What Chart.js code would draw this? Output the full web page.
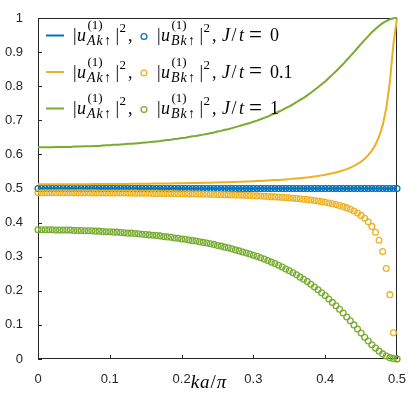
<!DOCTYPE html>
<html>
<head>
<meta charset="utf-8">
<script src="https://cdn.jsdelivr.net/npm/chart.js@4/dist/chart.umd.min.js"></script>
<style>
  html, body { margin: 0; padding: 0; background: #fff; }
  #wrap { width: 416px; height: 395px; }
</style>
</head>
<body>
<div id="wrap"><canvas id="chart" width="416" height="395"></canvas></div>
<script>
// ka/pi sample points
const kVals = [
  0, 0.005, 0.01, 0.015, 0.02, 0.025, 0.03, 0.035, 0.04, 0.045,
  0.05, 0.055, 0.06, 0.065, 0.07, 0.075, 0.08, 0.085, 0.09, 0.095,
  0.1, 0.105, 0.11, 0.115, 0.12, 0.125, 0.13, 0.135, 0.14, 0.145,
  0.15, 0.155, 0.16, 0.165, 0.17, 0.175, 0.18, 0.185, 0.19, 0.195,
  0.2, 0.205, 0.21, 0.215, 0.22, 0.225, 0.23, 0.235, 0.24, 0.245,
  0.25, 0.255, 0.26, 0.265, 0.27, 0.275, 0.28, 0.285, 0.29, 0.295,
  0.3, 0.305, 0.31, 0.315, 0.32, 0.325, 0.33, 0.335, 0.34, 0.345,
  0.35, 0.355, 0.36, 0.365, 0.37, 0.375, 0.38, 0.385, 0.39, 0.395,
  0.4, 0.405, 0.41, 0.415, 0.42, 0.425, 0.43, 0.435, 0.44, 0.445,
  0.45, 0.455, 0.46, 0.465, 0.47, 0.475, 0.48, 0.485, 0.49, 0.495,
  0.5
];

// J/t = 0
const blueA = [
  0.5, 0.5, 0.5, 0.5, 0.5, 0.5, 0.5, 0.5, 0.5, 0.5,
  0.5, 0.5, 0.5, 0.5, 0.5, 0.5, 0.5, 0.5, 0.5, 0.5,
  0.5, 0.5, 0.5, 0.5, 0.5, 0.5, 0.5, 0.5, 0.5, 0.5,
  0.5, 0.5, 0.5, 0.5, 0.5, 0.5, 0.5, 0.5, 0.5, 0.5,
  0.5, 0.5, 0.5, 0.5, 0.5, 0.5, 0.5, 0.5, 0.5, 0.5,
  0.5, 0.5, 0.5, 0.5, 0.5, 0.5, 0.5, 0.5, 0.5, 0.5,
  0.5, 0.5, 0.5, 0.5, 0.5, 0.5, 0.5, 0.5, 0.5, 0.5,
  0.5, 0.5, 0.5, 0.5, 0.5, 0.5, 0.5, 0.5, 0.5, 0.5,
  0.5, 0.5, 0.5, 0.5, 0.5, 0.5, 0.5, 0.5, 0.5, 0.5,
  0.5, 0.5, 0.5, 0.5, 0.5, 0.5, 0.5, 0.5, 0.5, 0.5,
  0.5
];
const blueB = [
  0.5, 0.5, 0.5, 0.5, 0.5, 0.5, 0.5, 0.5, 0.5, 0.5,
  0.5, 0.5, 0.5, 0.5, 0.5, 0.5, 0.5, 0.5, 0.5, 0.5,
  0.5, 0.5, 0.5, 0.5, 0.5, 0.5, 0.5, 0.5, 0.5, 0.5,
  0.5, 0.5, 0.5, 0.5, 0.5, 0.5, 0.5, 0.5, 0.5, 0.5,
  0.5, 0.5, 0.5, 0.5, 0.5, 0.5, 0.5, 0.5, 0.5, 0.5,
  0.5, 0.5, 0.5, 0.5, 0.5, 0.5, 0.5, 0.5, 0.5, 0.5,
  0.5, 0.5, 0.5, 0.5, 0.5, 0.5, 0.5, 0.5, 0.5, 0.5,
  0.5, 0.5, 0.5, 0.5, 0.5, 0.5, 0.5, 0.5, 0.5, 0.5,
  0.5, 0.5, 0.5, 0.5, 0.5, 0.5, 0.5, 0.5, 0.5, 0.5,
  0.5, 0.5, 0.5, 0.5, 0.5, 0.5, 0.5, 0.5, 0.5, 0.5,
  0.5
];

// J/t = 0.1
const orangeA = [
  0.5125, 0.5125, 0.5125, 0.5125, 0.5125, 0.5125, 0.5126, 0.5126, 0.5126, 0.5126,
  0.5127, 0.5127, 0.5127, 0.5128, 0.5128, 0.5129, 0.5129, 0.5130, 0.5130, 0.5131,
  0.5131, 0.5132, 0.5133, 0.5134, 0.5134, 0.5135, 0.5136, 0.5137, 0.5138, 0.5139,
  0.5140, 0.5141, 0.5143, 0.5144, 0.5145, 0.5147, 0.5148, 0.5150, 0.5151, 0.5153,
  0.5155, 0.5156, 0.5158, 0.5160, 0.5162, 0.5164, 0.5167, 0.5169, 0.5171, 0.5174,
  0.5177, 0.5180, 0.5183, 0.5186, 0.5189, 0.5192, 0.5196, 0.5200, 0.5204, 0.5208,
  0.5213, 0.5217, 0.5222, 0.5228, 0.5233, 0.5239, 0.5246, 0.5252, 0.5259, 0.5267,
  0.5275, 0.5284, 0.5294, 0.5304, 0.5315, 0.5326, 0.5339, 0.5353, 0.5368, 0.5385,
  0.5403, 0.5424, 0.5446, 0.5472, 0.5500, 0.5532, 0.5569, 0.5612, 0.5661, 0.5719,
  0.5789, 0.5873, 0.5978, 0.6111, 0.6284, 0.6518, 0.6850, 0.7344, 0.8113, 0.9233,
  1
];
const orangeB = [
  0.4875, 0.4875, 0.4875, 0.4875, 0.4875, 0.4875, 0.4874, 0.4874, 0.4874, 0.4874,
  0.4873, 0.4873, 0.4873, 0.4872, 0.4872, 0.4871, 0.4871, 0.4870, 0.4870, 0.4869,
  0.4869, 0.4868, 0.4867, 0.4866, 0.4866, 0.4865, 0.4864, 0.4863, 0.4862, 0.4861,
  0.4860, 0.4859, 0.4857, 0.4856, 0.4855, 0.4853, 0.4852, 0.4850, 0.4849, 0.4847,
  0.4845, 0.4844, 0.4842, 0.4840, 0.4838, 0.4836, 0.4833, 0.4831, 0.4829, 0.4826,
  0.4823, 0.4820, 0.4817, 0.4814, 0.4811, 0.4808, 0.4804, 0.4800, 0.4796, 0.4792,
  0.4787, 0.4783, 0.4778, 0.4772, 0.4767, 0.4761, 0.4754, 0.4748, 0.4741, 0.4733,
  0.4725, 0.4716, 0.4706, 0.4696, 0.4685, 0.4674, 0.4661, 0.4647, 0.4632, 0.4615,
  0.4597, 0.4576, 0.4554, 0.4528, 0.4500, 0.4468, 0.4431, 0.4388, 0.4339, 0.4281,
  0.4211, 0.4127, 0.4022, 0.3889, 0.3716, 0.3482, 0.3150, 0.2656, 0.1887, 0.0767,
  0
];

// J/t = 1
const greenA = [
  0.621, 0.621, 0.621, 0.621, 0.621, 0.622, 0.622, 0.622, 0.622, 0.622,
  0.623, 0.623, 0.623, 0.624, 0.624, 0.624, 0.625, 0.625, 0.626, 0.627,
  0.627, 0.628, 0.628, 0.629, 0.630, 0.631, 0.631, 0.632, 0.633, 0.634,
  0.635, 0.636, 0.637, 0.638, 0.639, 0.641, 0.642, 0.643, 0.645, 0.646,
  0.648, 0.649, 0.651, 0.653, 0.654, 0.656, 0.658, 0.660, 0.662, 0.664,
  0.667, 0.669, 0.672, 0.674, 0.677, 0.680, 0.683, 0.686, 0.689, 0.692,
  0.696, 0.699, 0.703, 0.707, 0.711, 0.716, 0.720, 0.725, 0.730, 0.736,
  0.741, 0.747, 0.753, 0.760, 0.766, 0.773, 0.781, 0.789, 0.797, 0.806,
  0.814, 0.824, 0.834, 0.844, 0.854, 0.865, 0.877, 0.888, 0.900, 0.912,
  0.924, 0.936, 0.947, 0.958, 0.968, 0.977, 0.985, 0.991, 0.996, 0.999,
  1
];
const greenB = [
  0.379, 0.379, 0.379, 0.379, 0.379, 0.378, 0.378, 0.378, 0.378, 0.378,
  0.377, 0.377, 0.377, 0.376, 0.376, 0.376, 0.375, 0.375, 0.374, 0.373,
  0.373, 0.372, 0.372, 0.371, 0.370, 0.369, 0.369, 0.368, 0.367, 0.366,
  0.365, 0.364, 0.363, 0.362, 0.361, 0.359, 0.358, 0.357, 0.355, 0.354,
  0.352, 0.351, 0.349, 0.347, 0.346, 0.344, 0.342, 0.340, 0.338, 0.336,
  0.333, 0.331, 0.328, 0.326, 0.323, 0.320, 0.317, 0.314, 0.311, 0.308,
  0.304, 0.301, 0.297, 0.293, 0.289, 0.284, 0.280, 0.275, 0.270, 0.264,
  0.259, 0.253, 0.247, 0.240, 0.234, 0.227, 0.219, 0.211, 0.203, 0.194,
  0.186, 0.176, 0.166, 0.156, 0.146, 0.135, 0.123, 0.112, 0.100, 0.088,
  0.076, 0.064, 0.053, 0.042, 0.032, 0.023, 0.015, 0.009, 0.004, 0.001,
  0
];

const jLabels = ['0', '0.1', '1'];

const BLUE = '#0072BD';
const ORANGE = '#EDB120';
const GREEN = '#77AC30';
const AXIS = '#262626';
const SERIF = '"Liberation Serif", "DejaVu Serif", serif';
const SANS = '"Liberation Sans", Arial, sans-serif';

function pts(ys) {
  return kVals.map((k, i) => ({ x: k, y: ys[i] }));
}

function lineSet(ys, color, order) {
  return {
    data: pts(ys), showLine: true, borderColor: color, borderWidth: 2,
    pointRadius: 0, fill: false, clip: false, order: order
  };
}

function circleSet(ys, color, order) {
  return {
    data: pts(ys), showLine: false, pointRadius: 2.9, pointBorderWidth: 1.3,
    pointBorderColor: color, pointBackgroundColor: 'rgba(0,0,0,0)',
    pointHoverRadius: 2.9, clip: false, order: order
  };
}

// axes box + inward ticks (drawn under the data)
const axesBox = {
  id: 'axesBox',
  beforeDatasetsDraw(chart) {
    const { ctx, chartArea: a, scales } = chart;
    ctx.save();
    ctx.strokeStyle = AXIS;
    ctx.lineWidth = 1;
    ctx.beginPath();
    ctx.rect(a.left + 0.5, a.top + 0.5, a.right - a.left - 1, a.bottom - a.top - 1);
    scales.x.ticks.forEach(t => {
      const px = Math.round(scales.x.getPixelForValue(t.value)) + 0.5;
      ctx.moveTo(px, a.bottom);
      ctx.lineTo(px, a.bottom - 4);
    });
    scales.y.ticks.forEach(t => {
      const py = Math.round(scales.y.getPixelForValue(t.value)) + 0.5;
      ctx.moveTo(a.left, py);
      ctx.lineTo(a.left + 4, py);
    });
    ctx.stroke();
    ctx.restore();
  }
};

function putText(ctx, txt, x, y, size, italic) {
  ctx.font = (italic ? 'italic ' : '') + size + 'px ' + SERIF;
  ctx.fillText(txt, x, y);
  return x + ctx.measureText(txt).width;
}

// |u^{(1)}_{X k up}|^2,   x0 = position of the first bar
function term(ctx, x0, y, letter) {
  putText(ctx, '|', x0, y, 18, false);
  putText(ctx, 'u', x0 + 4, y, 18, true);
  putText(ctx, '(1)', x0 + 14.5, y - 12, 13, false);
  putText(ctx, letter, x0 + 14, y + 4, 14, true);
  putText(ctx, 'k', x0 + 23.5, y + 4, 14, true);
  putText(ctx, '\u2191', x0 + 31, y + 4, 14, false);
  putText(ctx, '|', x0 + 42.5, y, 18, false);
  putText(ctx, '2', x0 + 46.5, y - 9, 13, false);
  putText(ctx, ',', x0 + 55, y, 18, false);
}

const legendAndTitle = {
  id: 'legendAndTitle',
  afterDraw(chart) {
    const { ctx } = chart;
    const colors = [BLUE, ORANGE, GREEN];
    ctx.save();
    ctx.textBaseline = 'alphabetic';
    ctx.textAlign = 'left';
    ctx.fillStyle = '#000';
    for (let r = 0; r < 3; r++) {
      const ly = 35.5 + r * 36.5;
      const by = ly + 5.5;
      ctx.strokeStyle = colors[r];
      ctx.lineWidth = 2;
      ctx.beginPath();
      ctx.moveTo(46, ly);
      ctx.lineTo(64, ly);
      ctx.stroke();
      ctx.lineWidth = 1.3;
      ctx.beginPath();
      ctx.arc(144, ly + 1, 2.9, 0, Math.PI * 2);
      ctx.stroke();
      term(ctx, 73, by, 'A');
      term(ctx, 157, by, 'B');
      putText(ctx, 'J', 222, by, 18, true);
      putText(ctx, '/', 231.5, by, 18, false);
      putText(ctx, 't', 239, by, 18, true);
      ctx.font = '23px ' + SERIF;
      ctx.fillText('=', 249, by + 0.5);
      putText(ctx, jLabels[r], 270, by, 18, false);
    }
    // x axis title
    const parts = [['k', true], ['a', true], ['/', false], ['\u03c0', true]];
    let w = 0;
    parts.forEach(p => {
      ctx.font = (p[1] ? 'italic ' : '') + '19px ' + SERIF;
      w += ctx.measureText(p[0]).width + 1;
    });
    let tx = 209 - w / 2;
    parts.forEach(p => { tx = putText(ctx, p[0], tx, 388, 19, p[1]) + 1; });
    ctx.restore();
  }
};

const tickFont = { family: SANS, size: 13 };

function fmtTick(v) {
  return Math.abs(v - Math.round(v)) < 1e-9 ? String(Math.round(v)) : v.toFixed(1);
}

new Chart(document.getElementById('chart').getContext('2d'), {
  type: 'scatter',
  data: {
    datasets: [
      lineSet(blueA, BLUE, 6),
      circleSet(blueB, BLUE, 5),
      lineSet(orangeA, ORANGE, 4),
      circleSet(orangeB, ORANGE, 3),
      lineSet(greenA, GREEN, 2),
      circleSet(greenB, GREEN, 1)
    ]
  },
  options: {
    responsive: false,
    animation: false,
    devicePixelRatio: 1,
    layout: { padding: { top: 18, right: 19, left: 0, bottom: 0 } },
    plugins: { legend: { display: false }, tooltip: { enabled: false } },
    scales: {
      x: {
        type: 'linear', min: 0, max: 0.5,
        grid: { display: false }, border: { display: false },
        ticks: { stepSize: 0.1, padding: 5, color: AXIS, font: tickFont, maxRotation: 0, callback: fmtTick },
        afterFit: s => { s.height = 36; }
      },
      y: {
        type: 'linear', min: 0, max: 1,
        grid: { display: false }, border: { display: false },
        ticks: { stepSize: 0.1, padding: 7, color: AXIS, font: tickFont, callback: fmtTick },
        afterFit: s => { s.width = 38; }
      }
    }
  },
  plugins: [axesBox, legendAndTitle]
});
</script>
</body>
</html>
